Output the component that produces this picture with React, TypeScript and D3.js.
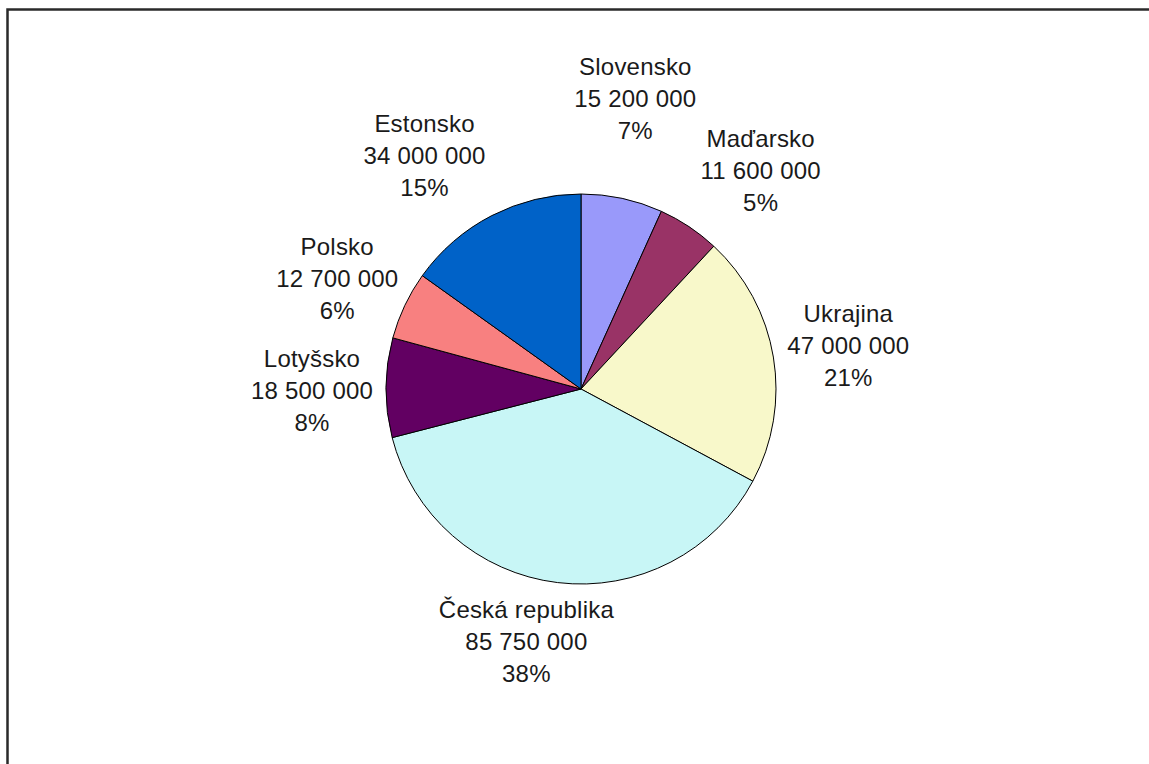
import React from "react";
import * as d3 from "d3";

const categories = ["Slovensko", "Maďarsko", "Ukrajina", "Česká republika", "Lotyšsko", "Polsko", "Estonsko"];
const values = [15200000, 11600000, 47000000, 85750000, 18500000, 12700000, 34000000];
const valueLabels = ["15 200 000", "11 600 000", "47 000 000", "85 750 000", "18 500 000", "12 700 000", "34 000 000"];
const colors = ["#9999FA", "#993366", "#F8F8CA", "#C8F6F6", "#620062", "#F88080", "#0062C8"];

// label layout nudges (px) relative to the arc-derived anchor
const labelNudge: [number, number][] = [
  [-3, -24],
  [29, 8],
  [-1, 2],
  [-22, -17],
  [3, 4],
  [2, 7],
  [-32, 9],
];

const W = 1149;
const H = 764;
const cx = 581;
const cy = 389;
const R = 195;
const labelR = 272;
const lineH = 32;

export default function App() {
  const total = d3.sum(values);
  const pie = d3.pie<number>().sort(null).value((d) => d)(values);
  const arc = d3.arc<d3.PieArcDatum<number>>().innerRadius(0).outerRadius(R);
  return (
    <svg width={W} height={H} style={{ position: "absolute", left: 0, top: 0, background: "#fff" }}>
      <rect x={7.5} y={9.5} width={1300} height={900} fill="#fff" stroke="#2a2a2a" strokeWidth={2.5} />
      <g transform={`translate(${cx},${cy})`}>
        {pie.map((p, i) => (
          <path key={i} d={arc(p) || ""} fill={colors[i]} stroke="#000" strokeWidth={1} strokeLinejoin="round" />
        ))}
        {pie.map((p, i) => {
          const a = (p.startAngle + p.endAngle) / 2;
          const x = Math.sin(a) * labelR + labelNudge[i][0];
          const y = -Math.cos(a) * labelR + 8 + labelNudge[i][1];
          const pct = Math.round((values[i] / total) * 100) + "%";
          return (
            <text
              key={"t" + i}
              x={x}
              y={y}
              textAnchor="middle"
              fontFamily="'Liberation Sans', Arial, sans-serif"
              fontSize={24}
              letterSpacing={0.2}
              fill="#1a1a1a"
            >
              <tspan x={x} y={y - lineH}>{categories[i]}</tspan>
              <tspan x={x} y={y}>{valueLabels[i]}</tspan>
              <tspan x={x} y={y + lineH}>{pct}</tspan>
            </text>
          );
        })}
      </g>
    </svg>
  );
}
